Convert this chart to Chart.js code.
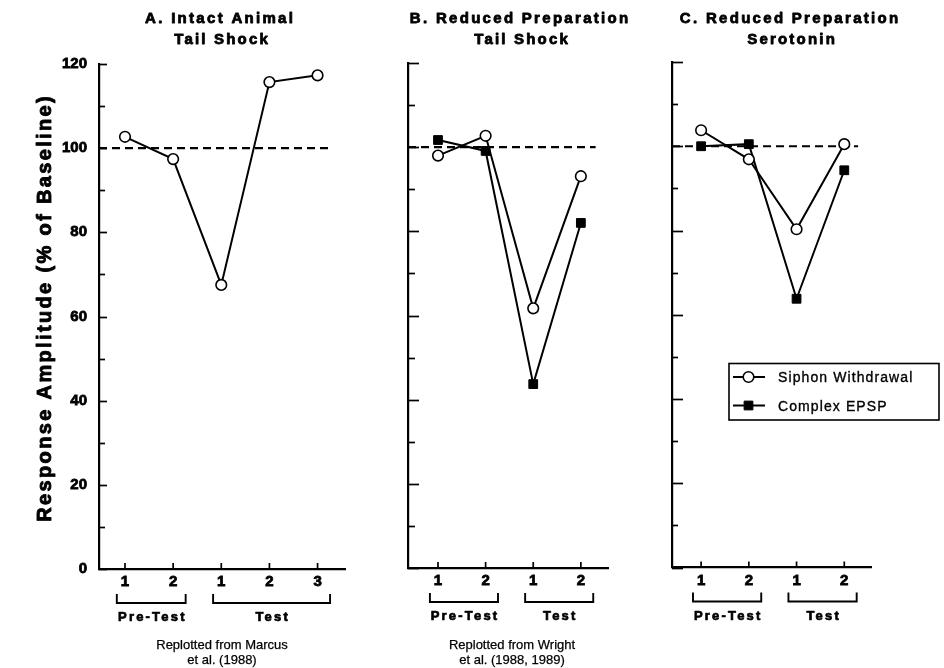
<!DOCTYPE html>
<html><head><meta charset="utf-8">
<script src="https://cdn.jsdelivr.net/npm/chart.js@4.4.1/dist/chart.umd.min.js"></script>
<style>
html,body{margin:0;padding:0;background:#fff;}
#wrap{position:relative;width:944px;height:668px;overflow:hidden;background:#fff;}
#wrap canvas{position:absolute;left:0;top:0;}
</style></head><body>
<div id="wrap">
<canvas id="cA" width="944" height="668"></canvas>
<canvas id="cB" width="944" height="668"></canvas>
<canvas id="cC" width="944" height="668"></canvas>
</div>
<script>
// ---------- data ----------
const yMin = 0;
const yMax = 120;
const yTickValues = [0, 20, 40, 60, 80, 100, 120];
const baseline = 100;

const catsA = ['1', '2', '1', '2', '3'];
const catsBC = ['1', '2', '1', '2'];
const groupLabels = ['Pre-Test', 'Test'];
const groupsA = [[1, 2], [3, 5]];
const groupsBC = [[1, 2], [3, 4]];

const seriesNames = ['Siphon Withdrawal', 'Complex EPSP'];

const siphonA = [102.7, 97.4, 67.5, 115.7, 117.3];
const siphonB = [98.0, 102.7, 61.7, 93.1];
const epspB   = [101.7, 99.1, 43.7, 82.0];
const siphonC = [103.8, 96.9, 80.3, 100.5];
const epspC   = [100.0, 100.5, 63.8, 94.3];

const titleA = ['A. Intact Animal', 'Tail Shock'];
const titleB = ['B. Reduced Preparation', 'Tail Shock'];
const titleC = ['C. Reduced Preparation', 'Serotonin'];
const noteA = ['Replotted from Marcus', 'et al. (1988)'];
const noteB = ['Replotted from Wright', 'et al. (1988, 1989)'];
const yAxisTitle = 'Response Amplitude (% of Baseline)';

// ---------- styling ----------
const FONT = '"Liberation Sans", Arial, Helvetica, sans-serif';
const W = 944, H = 668;

function toXY(arr) { return arr.map((v, i) => ({ x: i + 1, y: v })); }

function siphonDs(arr) {
  return { label: seriesNames[0], data: toXY(arr), borderColor: '#000', borderWidth: 2,
    pointStyle: 'circle', pointRadius: 5.3, pointBorderWidth: 1.6, pointBackgroundColor: '#fff',
    pointBorderColor: '#000', tension: 0, fill: false, order: 0 };
}
function epspDs(arr) {
  return { label: seriesNames[1], data: toXY(arr), borderColor: '#000', borderWidth: 2,
    pointStyle: 'rect', pointRadius: 6.2, pointBorderWidth: 1, pointBackgroundColor: '#000',
    pointBorderColor: '#000', tension: 0, fill: false, order: 1 };
}
function baselineDs(xFrom, xTo) {
  return { label: 'baseline', data: [{ x: xFrom, y: baseline }, { x: xTo, y: baseline }],
    borderColor: '#000', borderWidth: 2.2, borderDash: [8, 5], pointRadius: 0, order: 2 };
}

function spacedText(ctx, text, x, y, spacing, align, stroke) {
  ctx.save();
  ctx.letterSpacing = spacing + 'px';
  const w = ctx.measureText(text).width - spacing;
  let sx = x;
  if (align === 'center') sx = x - w / 2;
  else if (align === 'right') sx = x - w;
  ctx.textAlign = 'left';
  ctx.fillText(text, sx, y);
  if (stroke) {
    ctx.lineWidth = stroke;
    ctx.strokeStyle = ctx.fillStyle;
    ctx.lineJoin = 'round';
    ctx.strokeText(text, sx, y);
  }
  ctx.restore();
}

function makePanel(id, cfg) {
  const YW = cfg.yw, XH = 40;
  const a = cfg.area;
  const decor = {
    id: 'decor_' + id,
    afterDraw(chart) {
      const ctx = chart.ctx;
      const ca = chart.chartArea;
      const xs = chart.scales.x, ys = chart.scales.y;
      ctx.save();
      ctx.strokeStyle = '#000';
      ctx.fillStyle = '#000';
      ctx.lineWidth = 1.7;
      // inward y tick marks
      for (let v = yMin; v <= yMax; v += 10) {
        const py = Math.round(ys.getPixelForValue(v)) + 0.5;
        const len = (v % 20 === 0) ? cfg.majorLen : cfg.minorLen;
        ctx.beginPath(); ctx.moveTo(ca.left, py); ctx.lineTo(ca.left + len, py); ctx.stroke();
      }
      // inward x tick marks
      cfg.cats.forEach((c, i) => {
        const px = xs.getPixelForValue(i + 1);
        ctx.beginPath(); ctx.moveTo(px, ca.bottom); ctx.lineTo(px, ca.bottom - 6); ctx.stroke();
      });
      // group brackets
      ctx.lineWidth = 1.9;
      cfg.groups.forEach((g, gi) => {
        const x1 = xs.getPixelForValue(g[0] - 0.17);
        const x2 = xs.getPixelForValue(g[1] + 0.26);
        const yb = ca.bottom + 34, yt = ca.bottom + 25;
        ctx.beginPath();
        ctx.moveTo(x1, yt); ctx.lineTo(x1, yb); ctx.lineTo(x2, yb); ctx.lineTo(x2, yt);
        ctx.stroke();
        ctx.font = 'bold 13px ' + FONT;
        ctx.textBaseline = 'alphabetic';
        spacedText(ctx, groupLabels[gi], (x1 + x2) / 2, ca.bottom + 52, 2.2, 'center', 0.7);
      });
      // panel title
      ctx.font = 'bold 15px ' + FONT;
      ctx.textBaseline = 'alphabetic';
      spacedText(ctx, cfg.title[0], cfg.titleX, 23, 2.3, 'center', 0.8);
      spacedText(ctx, cfg.title[1], cfg.titleX + 2, 44, 2.2, 'center', 0.8);
      // note
      if (cfg.note) {
        ctx.font = '13px ' + FONT;
        spacedText(ctx, cfg.note[0], cfg.noteX, 648.5, 0, 'center', 0.25);
        spacedText(ctx, cfg.note[1], cfg.noteX, 664, 0, 'center', 0.25);
      }
      // y axis title
      if (cfg.yTitle) {
        ctx.save();
        ctx.translate(50.5, 309);
        ctx.rotate(-Math.PI / 2);
        ctx.font = 'bold 20px ' + FONT;
        ctx.textBaseline = 'alphabetic';
        spacedText(ctx, cfg.yTitle, 0, 0, 2.35, 'center', 0.9);
        ctx.restore();
      }
      // legend
      if (cfg.legend) {
        const L = { x: 729, y: 363.5, w: 210, h: 56.5 };
        ctx.lineWidth = 1.6;
        ctx.strokeRect(L.x, L.y, L.w, L.h);
        const rows = [
          { y: 377, ds: chart.data.datasets[0] },
          { y: 405.5, ds: chart.data.datasets[1] }
        ];
        rows.forEach(r => {
          ctx.save();
          ctx.lineWidth = 2;
          ctx.beginPath(); ctx.moveTo(733, r.y); ctx.lineTo(765, r.y); ctx.stroke();
          ctx.fillStyle = r.ds.pointBackgroundColor;
          ctx.strokeStyle = '#000';
          ctx.lineWidth = r.ds.pointBorderWidth;
          Chart.helpers.drawPoint(ctx, { pointStyle: r.ds.pointStyle, radius: r.ds.pointRadius, borderWidth: r.ds.pointBorderWidth }, 748.5, r.y);
          ctx.restore();
        });
        ctx.fillStyle = '#000';
        ctx.font = '14px ' + FONT;
        ctx.textBaseline = 'alphabetic';
        spacedText(ctx, rows[0].ds.label, 778, 382, 1.1, 'left', 0.35);
        spacedText(ctx, rows[1].ds.label, 778, 410.5, 1.1, 'left', 0.35);
      }
      ctx.restore();
    }
  };

  return new Chart(document.getElementById(id), {
    type: 'line',
    data: { datasets: cfg.datasets },
    options: {
      responsive: false, animation: false, devicePixelRatio: 1,
      events: [],
      layout: { padding: { left: a.left - YW, right: W - a.right, top: a.top, bottom: H - a.bottom - XH } },
      plugins: { legend: { display: false }, tooltip: { enabled: false }, title: { display: false } },
      elements: { line: { borderCapStyle: 'butt' } },
      scales: {
        x: {
          type: 'linear', min: cfg.xMin, max: cfg.xMax,
          grid: { display: false, drawTicks: false },
          border: { display: true, color: '#000', width: 2.2 },
          afterBuildTicks: s => { s.ticks = cfg.cats.map((c, i) => ({ value: i + 1 })); },
          afterFit: s => { s.height = XH; },
          ticks: { color: '#000', font: { family: FONT, size: 15, weight: 'bold' }, padding: 4,
            textStrokeColor: '#000', textStrokeWidth: 0.8,
            maxRotation: 0, autoSkip: false, callback: v => cfg.cats[v - 1] ?? '' }
        },
        y: {
          type: 'linear', min: yMin, max: yMax,
          grid: { display: false, drawTicks: false },
          border: { display: true, color: '#000', width: 2.2 },
          afterBuildTicks: s => { s.ticks = yTickValues.map(v => ({ value: v })); },
          afterFit: s => { s.width = YW; },
          ticks: { display: cfg.yLabels, color: '#000', font: { family: FONT, size: 15, weight: 'bold' },
            textStrokeColor: '#000', textStrokeWidth: 0.8,
            padding: 12, autoSkip: false }
        }
      }
    },
    plugins: [decor]
  });
}

makePanel('cA', {
  area: { left: 99, right: 345, top: 64, bottom: 569 }, yw: 99, yLabels: true,
  xMin: 0.46, xMax: 5.57, cats: catsA, groups: groupsA,
  datasets: [siphonDs(siphonA), baselineDs(0.46, 5.24)],
  title: titleA, titleX: 219, note: noteA, noteX: 222, yTitle: yAxisTitle,
  majorLen: 8, minorLen: 6
});
makePanel('cB', {
  area: { left: 408, right: 608, top: 63, bottom: 568 }, yw: 20, yLabels: false,
  xMin: 0.37, xMax: 4.57, cats: catsBC, groups: groupsBC,
  datasets: [siphonDs(siphonB), epspDs(epspB), baselineDs(0.37, 4.31)],
  title: titleB, titleX: 519, note: noteB, noteX: 512,
  majorLen: 11, minorLen: 7
});
makePanel('cC', {
  area: { left: 672, right: 871, top: 62, bottom: 567.5 }, yw: 20, yLabels: false,
  xMin: 0.39, xMax: 4.56, cats: catsBC, groups: groupsBC,
  datasets: [siphonDs(siphonC), epspDs(epspC), baselineDs(0.39, 4.29)],
  title: titleC, titleX: 789, legend: true,
  majorLen: 11, minorLen: 6
});
</script>
</body></html>
